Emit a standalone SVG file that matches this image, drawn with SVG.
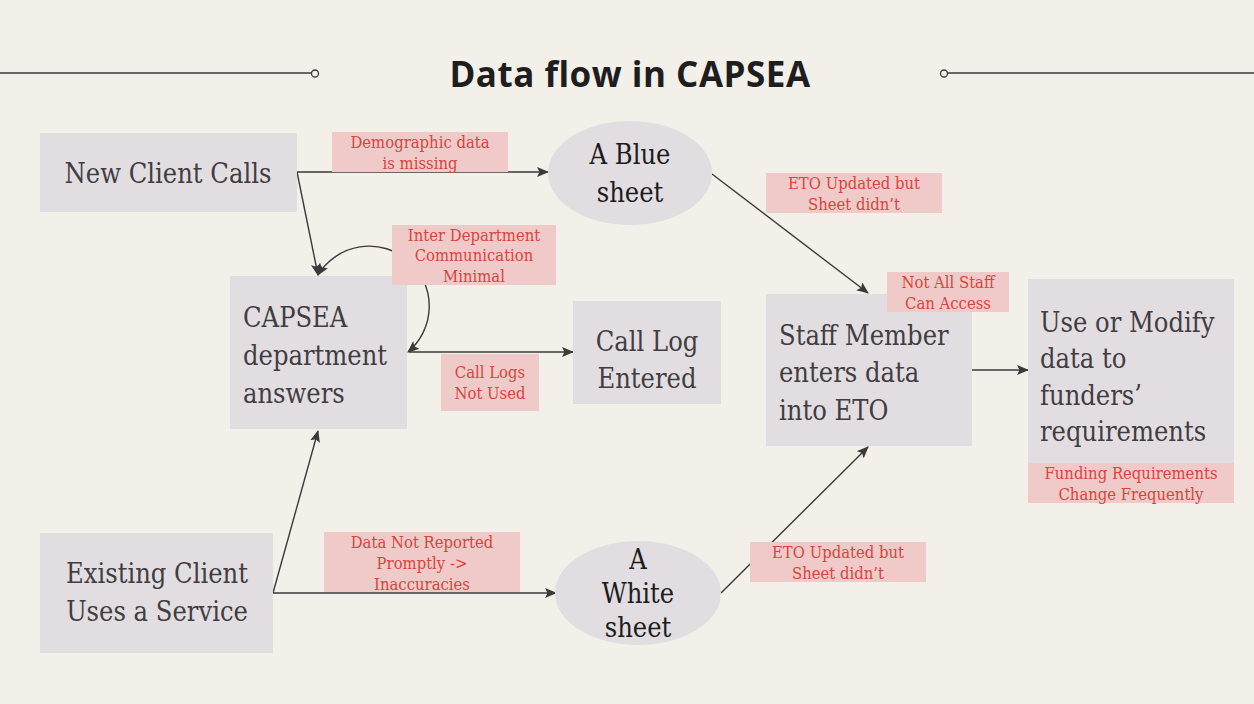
<svg xmlns="http://www.w3.org/2000/svg" width="1254" height="704" viewBox="0 0 1254 704">
<defs>
<marker id="arr" viewBox="0 0 12 10" refX="11" refY="5" markerWidth="12" markerHeight="10" markerUnits="userSpaceOnUse" orient="auto-start-reverse">
<path d="M0,0 L12,5 L0,10 L2.5,5 Z" fill="#3a3a3a"/>
</marker>
</defs>
<style>
.bg{fill:#f3f0ea}
.box{fill:#e2dde1}
.lbl{fill:#efcac9}
.nt{font-family:"DejaVu Serif Condensed","DejaVu Serif","Liberation Serif",serif;font-stretch:condensed;font-size:27px;fill:#413d42}
.et{font-family:"DejaVu Serif Condensed","DejaVu Serif","Liberation Serif",serif;font-stretch:condensed;font-size:27px;fill:#1c1c1c}
.rt{font-family:"DejaVu Serif Condensed","DejaVu Serif","Liberation Serif",serif;font-stretch:condensed;font-size:16.5px;fill:#d9443d;text-anchor:middle}
.c{text-anchor:middle}
.ln{fill:none;stroke:#3a3a3a;stroke-width:1.4}
.title{font-family:"Open Sans","Noto Sans",sans-serif;font-weight:700;font-size:35px;letter-spacing:0.5px;fill:#1e1e1e;text-anchor:middle}
</style>
<rect class="bg" x="0" y="0" width="1254" height="704"/>
<g id="title">
<line x1="0" y1="73" x2="311" y2="73" stroke="#3a3a3a" stroke-width="1.6"/>
<circle cx="315" cy="73.5" r="3.5" fill="#f3f0ea" stroke="#3a3a3a" stroke-width="1.3"/>
<line x1="948" y1="73" x2="1254" y2="73" stroke="#3a3a3a" stroke-width="1.6"/>
<circle cx="944" cy="73.5" r="3.5" fill="#f3f0ea" stroke="#3a3a3a" stroke-width="1.3"/>
<text class="title" x="630" y="87">Data flow in CAPSEA</text>
</g>
<g id="connectors">
<line class="ln" x1="297" y1="172" x2="548" y2="172" marker-end="url(#arr)"/>
<line class="ln" x1="297" y1="172" x2="318" y2="275" marker-end="url(#arr)"/>
<line class="ln" x1="712" y1="174" x2="868" y2="293" marker-end="url(#arr)"/>
<path class="ln" d="M318,275 A60,60 0 1 1 408,352" marker-start="url(#arr)" marker-end="url(#arr)"/>
<line class="ln" x1="409" y1="352" x2="573" y2="352" marker-end="url(#arr)"/>
<line class="ln" x1="972" y1="370" x2="1028" y2="370" marker-end="url(#arr)"/>
<line class="ln" x1="273" y1="593" x2="318" y2="431" marker-end="url(#arr)"/>
<line class="ln" x1="273" y1="593" x2="556" y2="593" marker-end="url(#arr)"/>
<line class="ln" x1="721" y1="593" x2="868" y2="447" marker-end="url(#arr)"/>
</g>
<g id="new-client">
<rect class="box" x="40" y="133" width="257" height="79"/>
<text class="nt c" x="168" y="183">New Client Calls</text>
</g>
<g id="blue-sheet">
<ellipse class="box" cx="630" cy="173" rx="82" ry="52"/>
<text class="et c" x="630" y="164">A Blue</text>
<text class="et c" x="630" y="202">sheet</text>
</g>
<g id="capsea">
<rect class="box" x="230" y="276" width="177" height="153"/>
<text class="nt" x="243" y="327">CAPSEA</text>
<text class="nt" x="243" y="365">department</text>
<text class="nt" x="243" y="403">answers</text>
</g>
<g id="call-log">
<rect class="box" x="573" y="301" width="148" height="103"/>
<text class="nt c" x="647" y="351">Call Log</text>
<text class="nt c" x="647" y="388">Entered</text>
</g>
<g id="staff">
<rect class="box" x="766" y="294" width="206" height="152"/>
<text class="nt" x="779" y="345">Staff Member</text>
<text class="nt" x="779" y="382">enters data</text>
<text class="nt" x="779" y="420">into ETO</text>
</g>
<g id="use-modify">
<rect class="box" x="1028" y="279" width="206" height="184"/>
<text class="nt" x="1040" y="332">Use or Modify</text>
<text class="nt" x="1040" y="368">data to</text>
<text class="nt" x="1040" y="405">funders’</text>
<text class="nt" x="1040" y="441">requirements</text>
</g>
<g id="existing-client">
<rect class="box" x="40" y="533" width="233" height="120"/>
<text class="nt c" x="157" y="583">Existing Client</text>
<text class="nt c" x="157" y="621">Uses a Service</text>
</g>
<g id="white-sheet">
<ellipse class="box" cx="638" cy="593" rx="83" ry="52"/>
<text class="et c" x="638" y="569">A</text>
<text class="et c" x="638" y="603">White</text>
<text class="et c" x="638" y="637">sheet</text>
</g>
<g id="label-demographic">
<rect class="lbl" x="332" y="132" width="176" height="40"/>
<text class="rt" x="420" y="148">Demographic data</text>
<text class="rt" x="420" y="169">is missing</text>
</g>
<g id="label-eto1">
<rect class="lbl" x="766" y="173" width="176" height="40"/>
<text class="rt" x="854" y="189">ETO Updated but</text>
<text class="rt" x="854" y="210">Sheet didn’t</text>
</g>
<g id="label-inter">
<rect class="lbl" x="392" y="225" width="164" height="60"/>
<text class="rt" x="474" y="241">Inter Department</text>
<text class="rt" x="474" y="261">Communication</text>
<text class="rt" x="474" y="282">Minimal</text>
</g>
<g id="label-calllogs">
<rect class="lbl" x="441" y="354" width="98" height="57"/>
<text class="rt" x="490" y="378">Call Logs</text>
<text class="rt" x="490" y="399">Not Used</text>
</g>
<g id="label-staff">
<rect class="lbl" x="887" y="272" width="122" height="40"/>
<text class="rt" x="948" y="288">Not All Staff</text>
<text class="rt" x="948" y="309">Can Access</text>
</g>
<g id="label-funding">
<rect class="lbl" x="1028" y="463" width="206" height="40"/>
<text class="rt" x="1131" y="479">Funding Requirements</text>
<text class="rt" x="1131" y="500">Change Frequently</text>
</g>
<g id="label-datanot">
<rect class="lbl" x="324" y="532" width="196" height="60"/>
<text class="rt" x="422" y="548">Data Not Reported</text>
<text class="rt" x="422" y="569">Promptly -&gt;</text>
<text class="rt" x="422" y="590">Inaccuracies</text>
</g>
<g id="label-eto2">
<rect class="lbl" x="750" y="542" width="176" height="40"/>
<text class="rt" x="838" y="558">ETO Updated but</text>
<text class="rt" x="838" y="579">Sheet didn’t</text>
</g>
</svg>
